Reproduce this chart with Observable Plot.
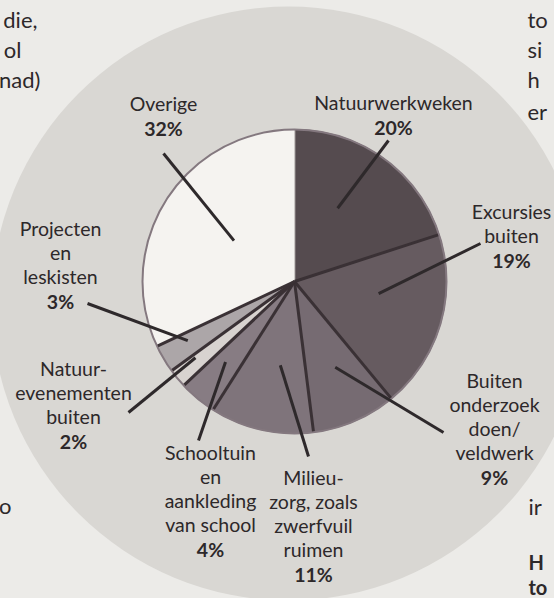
<!DOCTYPE html>
<html>
<head>
<meta charset="utf-8">
<script src="https://cdn.jsdelivr.net/npm/d3@7"></script>
<script src="https://cdn.jsdelivr.net/npm/@observablehq/plot@0.6"></script>
<style>
  html, body { margin: 0; padding: 0; background: #ecebe8; overflow: hidden; }
  #chart { width: 554px; height: 598px; }
</style>
</head>
<body>
<div id="chart"></div>
<script>
// ---- data ----
const categories = [
  "Natuurwerkweken",
  "Excursies buiten",
  "Buiten onderzoek doen/veldwerk",
  "Milieuzorg, zoals zwerfvuil ruimen",
  "Schooltuin en aankleding van school",
  "Natuurevenementen buiten",
  "Projecten en leskisten",
  "Overige"
];
const values = [20, 19, 9, 11, 4, 2, 3, 32];
const labelLines = [
  ["Natuurwerkweken"],
  ["Excursies", "buiten"],
  ["Buiten", "onderzoek", "doen/", "veldwerk"],
  ["Milieu-", "zorg, zoals", "zwerfvuil", "ruimen"],
  ["Schooltuin", "en", "aankleding", "van school"],
  ["Natuur-", "evenementen", "buiten"],
  ["Projecten", "en", "leskisten"],
  ["Overige"]
];
const pctLabels = ["20%", "19%", "9%", "11%", "4%", "2%", "3%", "32%"];

// ---- styles / layout ----
const sliceColors = ["#554b4f", "#665b60", "#766b72", "#7f747b", "#877c83", "#d8d3d0", "#aca6a8", "#f5f3f0"];
const W = 554, H = 598;
const pie = {cx: 294, cy: 281, r: 152};
const bgCircle = {x: 288, y: 303, r: 297};
// label placement: center x, first-line y
const labelPos = [
  {x: 393, y: 103}, {x: 511, y: 212}, {x: 494, y: 381}, {x: 313, y: 478},
  {x: 210, y: 453}, {x: 73, y: 369}, {x: 60, y: 229}, {x: 163, y: 104}
];
const lineStep = 24, pctStep = 25.5;
// leader lines: inner end (angle shift in deg, radius) and outer end near label
const leaderInner = [[-5.5, 85], [-8, 85], [-2, 95], [-3, 85], [1, 106], [2, 125], [1.6, 122], [1.6, 73]];
const leaderOuter = [[388, 140], [480, 243], [443, 432], [308, 456], [198, 440], [128, 412], [87, 303], [163, 153]];
// book text fragments at the page edges
const fragLeft = [{t: "die,", x: 37, y: 20}, {t: "ol", x: 21, y: 50}, {t: "nad)", x: 40, y: 80}, {t: "o", x: 11, y: 506}];
const fragRight = [{t: "to", x: 527, y: 20}, {t: "si", x: 527, y: 50}, {t: "h", x: 527, y: 80}, {t: "er", x: 527, y: 112}, {t: "ir", x: 528, y: 507}];
const fragRightBold = [{t: "H", x: 528, y: 563}, {t: "to", x: 528, y: 588}];

// ---- geometry from values ----
const total = d3.sum(values);
let acc = 0;
const slices = values.map((v, i) => {
  const a0 = acc / total * 2 * Math.PI;
  acc += v;
  const a1 = acc / total * 2 * Math.PI;
  return {i, a0, a1, mid: (a0 + a1) / 2};
});
const polar = (a, r) => ({x: pie.cx + r * Math.sin(a), y: pie.cy - r * Math.cos(a)});
const slicePts = slices.map(s => {
  const pts = [{x: pie.cx, y: pie.cy}];
  const n = Math.max(4, Math.ceil((s.a1 - s.a0) / (Math.PI / 180)));
  for (let k = 0; k <= n; k++) pts.push(polar(s.a0 + (s.a1 - s.a0) * k / n, pie.r));
  return pts;
});
const separators = slices.slice(0, slices.length - 1).map(s => {
  const p = polar(s.a1, pie.r - 1);
  return {x1: pie.cx, y1: pie.cy, x2: p.x, y2: p.y};
});
const leaders = slices.map((s, i) => {
  const p = polar(s.mid + leaderInner[i][0] * Math.PI / 180, leaderInner[i][1]);
  return {x1: p.x, y1: p.y, x2: leaderOuter[i][0], y2: leaderOuter[i][1]};
});
const nameTexts = [];
const pctTexts = [];
labelLines.forEach((lines, i) => {
  lines.forEach((t, k) => nameTexts.push({t, x: labelPos[i].x, y: labelPos[i].y + k * lineStep}));
  pctTexts.push({t: pctLabels[i], x: labelPos[i].x, y: labelPos[i].y + (lines.length - 1) * lineStep + pctStep});
});

const textColor = "#2d282a";
const fs = 19.5;
const chart = Plot.plot({
  width: W,
  height: H,
  margin: 0,
  x: {domain: [0, W], range: [0, W], axis: null},
  y: {domain: [0, H], range: [0, H], axis: null},
  style: {background: "#ecebe8", fontFamily: "Lato, 'Open Sans', sans-serif"},
  marks: [
    Plot.dot([bgCircle], {x: "x", y: "y", r: bgCircle.r, fill: "#d9d7d3", stroke: null}),
    ...slicePts.map((pts, i) => Plot.line(pts, {x: "x", y: "y", fill: sliceColors[i], stroke: sliceColors[i], strokeWidth: 0.6, curve: "linear-closed"})),
    Plot.dot([{x: pie.cx, y: pie.cy}], {x: "x", y: "y", r: pie.r, fill: "none", stroke: "#84787f", strokeWidth: 2}),
    Plot.link(separators, {x1: "x1", y1: "y1", x2: "x2", y2: "y2", stroke: "#3a3135", strokeWidth: 3}),
    Plot.link(leaders, {x1: "x1", y1: "y1", x2: "x2", y2: "y2", stroke: "#2e292b", strokeWidth: 3}),
    Plot.text(nameTexts, {x: "x", y: "y", text: "t", fontSize: fs, fill: textColor, textAnchor: "middle", lineAnchor: "middle"}),
    Plot.text(pctTexts, {x: "x", y: "y", text: "t", fontSize: fs, fontWeight: 700, fill: textColor, textAnchor: "middle", lineAnchor: "middle"}),
    Plot.text(fragLeft, {x: "x", y: "y", text: "t", fontSize: 22, fill: textColor, textAnchor: "end", lineAnchor: "middle"}),
    Plot.text(fragRight, {x: "x", y: "y", text: "t", fontSize: 22, fill: textColor, textAnchor: "start", lineAnchor: "middle"}),
    Plot.text(fragRightBold, {x: "x", y: "y", text: "t", fontSize: 20, fontWeight: 700, fill: textColor, textAnchor: "start", lineAnchor: "middle"})
  ]
});
document.getElementById("chart").appendChild(chart);
</script>
</body>
</html>
